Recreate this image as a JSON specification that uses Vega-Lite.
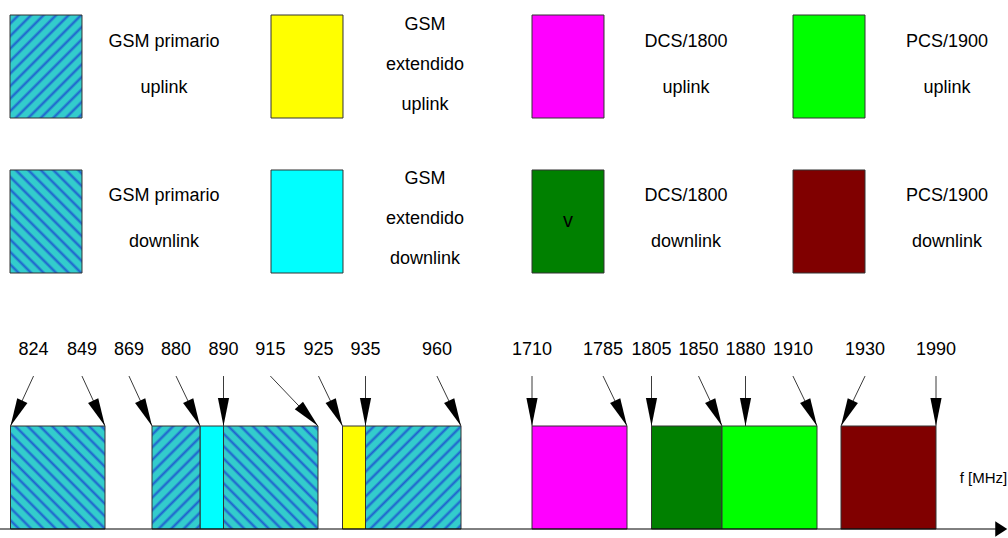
{
  "$schema": "https://vega.github.io/schema/vega-lite/v6.json",
  "width": 1008,
  "height": 538,
  "autosize": {"type": "none"},
  "padding": 0,
  "background": "white",
  "config": {"view": {"stroke": null}, "axis": {"disable": true}},
  "datasets": {
    "legend": [
      {"key": "gsm_up", "col": 0, "row": 0, "label": "GSM primario\nuplink"},
      {"key": "egsm_up", "col": 1, "row": 0, "label": "GSM\nextendido\nuplink"},
      {"key": "dcs_up", "col": 2, "row": 0, "label": "DCS/1800\nuplink"},
      {"key": "pcs_up", "col": 3, "row": 0, "label": "PCS/1900\nuplink"},
      {"key": "gsm_down", "col": 0, "row": 1, "label": "GSM primario\ndownlink"},
      {"key": "egsm_down", "col": 1, "row": 1, "label": "GSM\nextendido\ndownlink"},
      {"key": "dcs_down", "col": 2, "row": 1, "label": "DCS/1800\ndownlink", "inner": "v"},
      {"key": "pcs_down", "col": 3, "row": 1, "label": "PCS/1900\ndownlink"}
    ],
    "bands": [
      {"f0": 824, "f1": 849, "key": "gsm_down"},
      {"f0": 869, "f1": 880, "key": "gsm_up"},
      {"f0": 880, "f1": 890, "key": "egsm_down"},
      {"f0": 890, "f1": 915, "key": "gsm_down"},
      {"f0": 925, "f1": 935, "key": "egsm_up"},
      {"f0": 935, "f1": 960, "key": "gsm_up"},
      {"f0": 1710, "f1": 1785, "key": "dcs_up"},
      {"f0": 1805, "f1": 1850, "key": "dcs_down"},
      {"f0": 1850, "f1": 1910, "key": "pcs_up"},
      {"f0": 1930, "f1": 1990, "key": "pcs_down"}
    ],
    "ticks": [
      {"f": 824, "lx": 830.1, "dir": "left"},
      {"f": 849, "lx": 842.9, "dir": "right"},
      {"f": 869, "lx": 859.2, "dir": "right"},
      {"f": 880, "lx": 874.5, "dir": "right"},
      {"f": 890, "lx": 890, "dir": "down"},
      {"f": 915, "lx": 902.4, "dir": "far"},
      {"f": 925, "lx": 915.2, "dir": "right"},
      {"f": 935, "lx": 935, "dir": "down"},
      {"f": 960, "lx": 953.7, "dir": "right"},
      {"f": 1710, "lx": 1710, "dir": "down"},
      {"f": 1785, "lx": 1766.1, "dir": "right"},
      {"f": 1805, "lx": 1805, "dir": "down"},
      {"f": 1850, "lx": 1835, "dir": "right"},
      {"f": 1880, "lx": 1880, "dir": "down"},
      {"f": 1910, "lx": 1899.9, "dir": "right"},
      {"f": 1930, "lx": 1945.2, "dir": "left"},
      {"f": 1990, "lx": 1990, "dir": "down"}
    ],
    "axis": [{"label": "f [MHz]"}]
  },
  "resolve": {"scale": {"x": "independent", "y": "independent"}},
  "layer": [
    {
      "data": {"name": "legend"},
      "encoding": {
        "x": {"field": "col", "type": "ordinal", "scale": {"type": "band", "domain": [0, 1, 2, 3], "range": [10, 865], "paddingInner": 0.72414, "paddingOuter": 0}},
        "y": {"field": "row", "type": "ordinal", "scale": {"type": "band", "domain": [0, 1], "range": [15, 273], "paddingInner": 0.33548, "paddingOuter": 0}}
      },
      "layer": [
        {
          "transform": [{"filter": "datum.key !== 'gsm_up' && datum.key !== 'gsm_down'"}],
          "mark": {"type": "rect", "stroke": "#333333", "strokeWidth": 1},
          "encoding": {
            "fill": {"field": "key", "type": "nominal", "legend": null,
              "scale": {"domain": ["gsm_up", "gsm_down", "egsm_up", "egsm_down", "dcs_up", "dcs_down", "pcs_up", "pcs_down"],
                        "range": ["#33cccc", "#33cccc", "#ffff00", "#00ffff", "#ff00ff", "#008000", "#00ff00", "#800000"]}}
          }
        },
        {
          "transform": [{"filter": "datum.key === 'gsm_up'"}],
          "mark": {"type": "rect", "stroke": "#333333", "strokeWidth": 1,
            "fill": {"gradient": "linear", "x1": 0, "y1": 0, "x2": 0.7978, "y2": 1.1413, "stops": [
              {"offset": 0, "color": "#33cccc"},
              {"offset": 0.0321, "color": "#33cccc"}, {"offset": 0.05, "color": "#1f5fcf"}, {"offset": 0.0679, "color": "#33cccc"},
              {"offset": 0.1036, "color": "#33cccc"}, {"offset": 0.1214, "color": "#1f5fcf"}, {"offset": 0.1393, "color": "#33cccc"},
              {"offset": 0.175, "color": "#33cccc"}, {"offset": 0.1929, "color": "#1f5fcf"}, {"offset": 0.2107, "color": "#33cccc"},
              {"offset": 0.2464, "color": "#33cccc"}, {"offset": 0.2643, "color": "#1f5fcf"}, {"offset": 0.2821, "color": "#33cccc"},
              {"offset": 0.3179, "color": "#33cccc"}, {"offset": 0.3357, "color": "#1f5fcf"}, {"offset": 0.3536, "color": "#33cccc"},
              {"offset": 0.3893, "color": "#33cccc"}, {"offset": 0.4071, "color": "#1f5fcf"}, {"offset": 0.425, "color": "#33cccc"},
              {"offset": 0.4607, "color": "#33cccc"}, {"offset": 0.4786, "color": "#1f5fcf"}, {"offset": 0.4964, "color": "#33cccc"},
              {"offset": 0.5321, "color": "#33cccc"}, {"offset": 0.55, "color": "#1f5fcf"}, {"offset": 0.5679, "color": "#33cccc"},
              {"offset": 0.6036, "color": "#33cccc"}, {"offset": 0.6214, "color": "#1f5fcf"}, {"offset": 0.6393, "color": "#33cccc"},
              {"offset": 0.675, "color": "#33cccc"}, {"offset": 0.6929, "color": "#1f5fcf"}, {"offset": 0.7107, "color": "#33cccc"},
              {"offset": 0.7464, "color": "#33cccc"}, {"offset": 0.7643, "color": "#1f5fcf"}, {"offset": 0.7821, "color": "#33cccc"},
              {"offset": 0.8179, "color": "#33cccc"}, {"offset": 0.8357, "color": "#1f5fcf"}, {"offset": 0.8536, "color": "#33cccc"},
              {"offset": 0.8893, "color": "#33cccc"}, {"offset": 0.9071, "color": "#1f5fcf"}, {"offset": 0.925, "color": "#33cccc"},
              {"offset": 0.9607, "color": "#33cccc"}, {"offset": 0.9786, "color": "#1f5fcf"}, {"offset": 0.9964, "color": "#33cccc"},
              {"offset": 1, "color": "#33cccc"}
            ]}}
        },
        {
          "transform": [{"filter": "datum.key === 'gsm_down'"}],
          "mark": {"type": "rect", "stroke": "#333333", "strokeWidth": 1,
            "fill": {"gradient": "linear", "x1": 0, "y1": 1, "x2": 0.7978, "y2": -0.1413, "stops": [
              {"offset": 0, "color": "#33cccc"},
              {"offset": 0.0321, "color": "#33cccc"}, {"offset": 0.05, "color": "#1f5fcf"}, {"offset": 0.0679, "color": "#33cccc"},
              {"offset": 0.1036, "color": "#33cccc"}, {"offset": 0.1214, "color": "#1f5fcf"}, {"offset": 0.1393, "color": "#33cccc"},
              {"offset": 0.175, "color": "#33cccc"}, {"offset": 0.1929, "color": "#1f5fcf"}, {"offset": 0.2107, "color": "#33cccc"},
              {"offset": 0.2464, "color": "#33cccc"}, {"offset": 0.2643, "color": "#1f5fcf"}, {"offset": 0.2821, "color": "#33cccc"},
              {"offset": 0.3179, "color": "#33cccc"}, {"offset": 0.3357, "color": "#1f5fcf"}, {"offset": 0.3536, "color": "#33cccc"},
              {"offset": 0.3893, "color": "#33cccc"}, {"offset": 0.4071, "color": "#1f5fcf"}, {"offset": 0.425, "color": "#33cccc"},
              {"offset": 0.4607, "color": "#33cccc"}, {"offset": 0.4786, "color": "#1f5fcf"}, {"offset": 0.4964, "color": "#33cccc"},
              {"offset": 0.5321, "color": "#33cccc"}, {"offset": 0.55, "color": "#1f5fcf"}, {"offset": 0.5679, "color": "#33cccc"},
              {"offset": 0.6036, "color": "#33cccc"}, {"offset": 0.6214, "color": "#1f5fcf"}, {"offset": 0.6393, "color": "#33cccc"},
              {"offset": 0.675, "color": "#33cccc"}, {"offset": 0.6929, "color": "#1f5fcf"}, {"offset": 0.7107, "color": "#33cccc"},
              {"offset": 0.7464, "color": "#33cccc"}, {"offset": 0.7643, "color": "#1f5fcf"}, {"offset": 0.7821, "color": "#33cccc"},
              {"offset": 0.8179, "color": "#33cccc"}, {"offset": 0.8357, "color": "#1f5fcf"}, {"offset": 0.8536, "color": "#33cccc"},
              {"offset": 0.8893, "color": "#33cccc"}, {"offset": 0.9071, "color": "#1f5fcf"}, {"offset": 0.925, "color": "#33cccc"},
              {"offset": 0.9607, "color": "#33cccc"}, {"offset": 0.9786, "color": "#1f5fcf"}, {"offset": 0.9964, "color": "#33cccc"},
              {"offset": 1, "color": "#33cccc"}
            ]}}
        },
        {
          "transform": [{"filter": "datum.key !== 'egsm_up' && datum.key !== 'egsm_down'"}],
          "mark": {"type": "text", "font": "Liberation Sans", "fontSize": 18, "lineHeight": 46, "lineBreak": "\n", "align": "center", "baseline": "middle", "dx": 118, "dy": -25, "color": "black"},
          "encoding": {"text": {"field": "label", "type": "nominal"}}
        },
        {
          "transform": [{"filter": "datum.key === 'egsm_up' || datum.key === 'egsm_down'"}],
          "mark": {"type": "text", "font": "Liberation Sans", "fontSize": 18, "lineHeight": 40, "lineBreak": "\n", "align": "center", "baseline": "middle", "dx": 118, "dy": -42, "color": "black"},
          "encoding": {"text": {"field": "label", "type": "nominal"}}
        },
        {
          "transform": [{"filter": "datum.inner"}],
          "mark": {"type": "text", "font": "Liberation Sans", "fontSize": 20, "align": "center", "baseline": "middle", "color": "black"},
          "encoding": {"text": {"field": "inner", "type": "nominal"}}
        }
      ]
    },
    {
      "layer": [
        {
          "data": {"name": "bands"},
          "transform": [{"filter": "datum.key !== 'gsm_up' && datum.key !== 'gsm_down'"}],
          "mark": {"type": "rect", "stroke": "#333333", "strokeWidth": 1},
          "encoding": {
            "x": {"field": "f0", "type": "quantitative", "scale": {"type": "linear", "domain": [824, 849, 869, 880, 890, 915, 925, 935, 960, 1710, 1785, 1805, 1850, 1880, 1910, 1930, 1990], "range": [10.5, 105, 152, 200, 223.5, 318, 342.5, 365.5, 461, 532, 627, 651.5, 722, 745.5, 817, 841, 936], "nice": false, "zero": false}},
            "x2": {"field": "f1"},
            "y": {"datum": 0, "type": "quantitative", "scale": {"type": "linear", "domain": [0, 1], "range": [529, 426], "nice": false, "zero": false}},
            "y2": {"datum": 1},
            "fill": {"field": "key", "type": "nominal", "legend": null,
              "scale": {"domain": ["gsm_up", "gsm_down", "egsm_up", "egsm_down", "dcs_up", "dcs_down", "pcs_up", "pcs_down"],
                        "range": ["#33cccc", "#33cccc", "#ffff00", "#00ffff", "#ff00ff", "#008000", "#00ff00", "#800000"]}}
          }
        },
        {
          "data": {"name": "bands"},
          "transform": [{"filter": "datum.key === 'gsm_down'"}],
          "mark": {"type": "rect", "stroke": "#333333", "strokeWidth": 1,
            "fill": {"gradient": "linear", "x1": 0, "y1": 1, "x2": 0.958, "y2": -0.0387, "stops": [
              {"offset": 0, "color": "#33cccc"},
              {"offset": 0.0281, "color": "#33cccc"}, {"offset": 0.0438, "color": "#1f5fcf"}, {"offset": 0.0594, "color": "#33cccc"},
              {"offset": 0.0906, "color": "#33cccc"}, {"offset": 0.1063, "color": "#1f5fcf"}, {"offset": 0.1219, "color": "#33cccc"},
              {"offset": 0.1531, "color": "#33cccc"}, {"offset": 0.1688, "color": "#1f5fcf"}, {"offset": 0.1844, "color": "#33cccc"},
              {"offset": 0.2156, "color": "#33cccc"}, {"offset": 0.2313, "color": "#1f5fcf"}, {"offset": 0.2469, "color": "#33cccc"},
              {"offset": 0.2781, "color": "#33cccc"}, {"offset": 0.2938, "color": "#1f5fcf"}, {"offset": 0.3094, "color": "#33cccc"},
              {"offset": 0.3406, "color": "#33cccc"}, {"offset": 0.3563, "color": "#1f5fcf"}, {"offset": 0.3719, "color": "#33cccc"},
              {"offset": 0.4031, "color": "#33cccc"}, {"offset": 0.4188, "color": "#1f5fcf"}, {"offset": 0.4344, "color": "#33cccc"},
              {"offset": 0.4656, "color": "#33cccc"}, {"offset": 0.4813, "color": "#1f5fcf"}, {"offset": 0.4969, "color": "#33cccc"},
              {"offset": 0.5281, "color": "#33cccc"}, {"offset": 0.5438, "color": "#1f5fcf"}, {"offset": 0.5594, "color": "#33cccc"},
              {"offset": 0.5906, "color": "#33cccc"}, {"offset": 0.6063, "color": "#1f5fcf"}, {"offset": 0.6219, "color": "#33cccc"},
              {"offset": 0.6531, "color": "#33cccc"}, {"offset": 0.6688, "color": "#1f5fcf"}, {"offset": 0.6844, "color": "#33cccc"},
              {"offset": 0.7156, "color": "#33cccc"}, {"offset": 0.7313, "color": "#1f5fcf"}, {"offset": 0.7469, "color": "#33cccc"},
              {"offset": 0.7781, "color": "#33cccc"}, {"offset": 0.7938, "color": "#1f5fcf"}, {"offset": 0.8094, "color": "#33cccc"},
              {"offset": 0.8406, "color": "#33cccc"}, {"offset": 0.8563, "color": "#1f5fcf"}, {"offset": 0.8719, "color": "#33cccc"},
              {"offset": 0.9031, "color": "#33cccc"}, {"offset": 0.9188, "color": "#1f5fcf"}, {"offset": 0.9344, "color": "#33cccc"},
              {"offset": 0.9656, "color": "#33cccc"}, {"offset": 0.9813, "color": "#1f5fcf"}, {"offset": 0.9969, "color": "#33cccc"},
              {"offset": 1, "color": "#33cccc"}
            ]}},
          "encoding": {
            "x": {"field": "f0", "type": "quantitative"},
            "x2": {"field": "f1"},
            "y": {"datum": 0, "type": "quantitative"},
            "y2": {"datum": 1}
          }
        },
        {
          "data": {"name": "bands"},
          "transform": [{"filter": "datum.key === 'gsm_up' && datum.f0 === 869"}],
          "mark": {"type": "rect", "stroke": "#333333", "strokeWidth": 1,
            "fill": {"gradient": "linear", "x1": 0, "y1": 0, "x2": 0.5613, "y2": 1.2045, "stops": [
              {"offset": 0, "color": "#33cccc"},
              {"offset": 0.0375, "color": "#33cccc"}, {"offset": 0.0583, "color": "#1f5fcf"}, {"offset": 0.0792, "color": "#33cccc"},
              {"offset": 0.1208, "color": "#33cccc"}, {"offset": 0.1417, "color": "#1f5fcf"}, {"offset": 0.1625, "color": "#33cccc"},
              {"offset": 0.2042, "color": "#33cccc"}, {"offset": 0.225, "color": "#1f5fcf"}, {"offset": 0.2458, "color": "#33cccc"},
              {"offset": 0.2875, "color": "#33cccc"}, {"offset": 0.3083, "color": "#1f5fcf"}, {"offset": 0.3292, "color": "#33cccc"},
              {"offset": 0.3708, "color": "#33cccc"}, {"offset": 0.3917, "color": "#1f5fcf"}, {"offset": 0.4125, "color": "#33cccc"},
              {"offset": 0.4542, "color": "#33cccc"}, {"offset": 0.475, "color": "#1f5fcf"}, {"offset": 0.4958, "color": "#33cccc"},
              {"offset": 0.5375, "color": "#33cccc"}, {"offset": 0.5583, "color": "#1f5fcf"}, {"offset": 0.5792, "color": "#33cccc"},
              {"offset": 0.6208, "color": "#33cccc"}, {"offset": 0.6417, "color": "#1f5fcf"}, {"offset": 0.6625, "color": "#33cccc"},
              {"offset": 0.7042, "color": "#33cccc"}, {"offset": 0.725, "color": "#1f5fcf"}, {"offset": 0.7458, "color": "#33cccc"},
              {"offset": 0.7875, "color": "#33cccc"}, {"offset": 0.8083, "color": "#1f5fcf"}, {"offset": 0.8292, "color": "#33cccc"},
              {"offset": 0.8708, "color": "#33cccc"}, {"offset": 0.8917, "color": "#1f5fcf"}, {"offset": 0.9125, "color": "#33cccc"},
              {"offset": 0.9542, "color": "#33cccc"}, {"offset": 0.975, "color": "#1f5fcf"}, {"offset": 0.9958, "color": "#33cccc"},
              {"offset": 1, "color": "#33cccc"}
            ]}},
          "encoding": {
            "x": {"field": "f0", "type": "quantitative"},
            "x2": {"field": "f1"},
            "y": {"datum": 0, "type": "quantitative"},
            "y2": {"datum": 1}
          }
        },
        {
          "data": {"name": "bands"},
          "transform": [{"filter": "datum.key === 'gsm_up' && datum.f0 === 935"}],
          "mark": {"type": "rect", "stroke": "#333333", "strokeWidth": 1,
            "fill": {"gradient": "linear", "x1": 0, "y1": 0, "x2": 0.958, "y2": 1.0387, "stops": [
              {"offset": 0, "color": "#33cccc"},
              {"offset": 0.0281, "color": "#33cccc"}, {"offset": 0.0438, "color": "#1f5fcf"}, {"offset": 0.0594, "color": "#33cccc"},
              {"offset": 0.0906, "color": "#33cccc"}, {"offset": 0.1063, "color": "#1f5fcf"}, {"offset": 0.1219, "color": "#33cccc"},
              {"offset": 0.1531, "color": "#33cccc"}, {"offset": 0.1688, "color": "#1f5fcf"}, {"offset": 0.1844, "color": "#33cccc"},
              {"offset": 0.2156, "color": "#33cccc"}, {"offset": 0.2313, "color": "#1f5fcf"}, {"offset": 0.2469, "color": "#33cccc"},
              {"offset": 0.2781, "color": "#33cccc"}, {"offset": 0.2938, "color": "#1f5fcf"}, {"offset": 0.3094, "color": "#33cccc"},
              {"offset": 0.3406, "color": "#33cccc"}, {"offset": 0.3563, "color": "#1f5fcf"}, {"offset": 0.3719, "color": "#33cccc"},
              {"offset": 0.4031, "color": "#33cccc"}, {"offset": 0.4188, "color": "#1f5fcf"}, {"offset": 0.4344, "color": "#33cccc"},
              {"offset": 0.4656, "color": "#33cccc"}, {"offset": 0.4813, "color": "#1f5fcf"}, {"offset": 0.4969, "color": "#33cccc"},
              {"offset": 0.5281, "color": "#33cccc"}, {"offset": 0.5438, "color": "#1f5fcf"}, {"offset": 0.5594, "color": "#33cccc"},
              {"offset": 0.5906, "color": "#33cccc"}, {"offset": 0.6063, "color": "#1f5fcf"}, {"offset": 0.6219, "color": "#33cccc"},
              {"offset": 0.6531, "color": "#33cccc"}, {"offset": 0.6688, "color": "#1f5fcf"}, {"offset": 0.6844, "color": "#33cccc"},
              {"offset": 0.7156, "color": "#33cccc"}, {"offset": 0.7313, "color": "#1f5fcf"}, {"offset": 0.7469, "color": "#33cccc"},
              {"offset": 0.7781, "color": "#33cccc"}, {"offset": 0.7938, "color": "#1f5fcf"}, {"offset": 0.8094, "color": "#33cccc"},
              {"offset": 0.8406, "color": "#33cccc"}, {"offset": 0.8563, "color": "#1f5fcf"}, {"offset": 0.8719, "color": "#33cccc"},
              {"offset": 0.9031, "color": "#33cccc"}, {"offset": 0.9188, "color": "#1f5fcf"}, {"offset": 0.9344, "color": "#33cccc"},
              {"offset": 0.9656, "color": "#33cccc"}, {"offset": 0.9813, "color": "#1f5fcf"}, {"offset": 0.9969, "color": "#33cccc"},
              {"offset": 1, "color": "#33cccc"}
            ]}},
          "encoding": {
            "x": {"field": "f0", "type": "quantitative"},
            "x2": {"field": "f1"},
            "y": {"datum": 0, "type": "quantitative"},
            "y2": {"datum": 1}
          }
        },
        {
          "data": {"name": "ticks"},
          "mark": {"type": "rule", "stroke": "#3a3a3a", "strokeWidth": 1},
          "encoding": {
            "x": {"field": "lx", "type": "quantitative"},
            "x2": {"field": "f"},
            "y": {"datum": 1.485, "type": "quantitative"},
            "y2": {"datum": 1}
          }
        },
        {
          "data": {"name": "ticks"},
          "mark": {"type": "point", "shape": "M0,0L-0.2,-1L0.2,-1Z", "size": 3136, "filled": true, "color": "black", "opacity": 1, "strokeWidth": 0},
          "encoding": {
            "x": {"field": "f", "type": "quantitative"},
            "y": {"datum": 1, "type": "quantitative"},
            "angle": {"field": "dir", "type": "nominal", "legend": null, "scale": {"type": "ordinal", "domain": ["left", "down", "right", "far"], "range": [25, 0, -25, -43]}}
          }
        },
        {
          "data": {"name": "ticks"},
          "mark": {"type": "text", "font": "Liberation Sans", "fontSize": 18, "align": "center", "baseline": "alphabetic", "color": "black"},
          "encoding": {
            "x": {"field": "lx", "type": "quantitative"},
            "y": {"datum": 1.69, "type": "quantitative"},
            "text": {"field": "f", "type": "nominal"}
          }
        },
        {
          "data": {"name": "axis"},
          "mark": {"type": "rule", "stroke": "black", "strokeWidth": 1},
          "encoding": {
            "x": {"datum": 821, "type": "quantitative"},
            "x2": {"datum": 2030},
            "y": {"datum": 0, "type": "quantitative"}
          }
        },
        {
          "data": {"name": "axis"},
          "mark": {"type": "point", "shape": "M0,0L-1,-0.65L-1,0.65Z", "size": 576, "filled": true, "color": "black", "opacity": 1, "strokeWidth": 0},
          "encoding": {
            "x": {"datum": 2035, "type": "quantitative"},
            "y": {"datum": 0, "type": "quantitative"}
          }
        },
        {
          "data": {"name": "axis"},
          "mark": {"type": "text", "font": "Liberation Sans", "fontSize": 15, "align": "center", "baseline": "alphabetic", "color": "black"},
          "encoding": {
            "x": {"datum": 2020, "type": "quantitative"},
            "y": {"datum": 0.4466, "type": "quantitative"},
            "text": {"field": "label", "type": "nominal"}
          }
        }
      ]
    }
  ]
}
